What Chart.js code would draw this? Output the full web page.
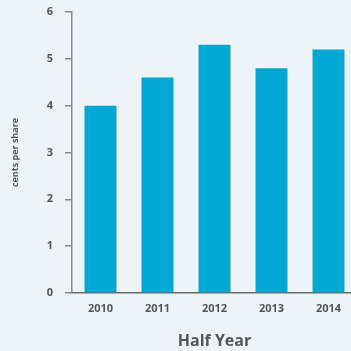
<!DOCTYPE html>
<html>
<head>
<meta charset="utf-8">
<title>Half Year</title>
<script src="https://cdn.jsdelivr.net/npm/chart.js@4.4.1/dist/chart.umd.min.js"></script>
<style>
  html, body { margin: 0; padding: 0; background: #eef3f8; overflow: hidden; }
  #wrap { width: 357px; height: 351px; }
</style>
</head>
<body>
<div id="wrap"><canvas id="myChart"></canvas></div>
<script>
var years = ['2010', '2011', '2012', '2013', '2014'];
var cents = [4.0, 4.6, 5.3, 4.8, 5.2];
var yTicks = [0, 1, 2, 3, 4, 5, 6];

var labelFont = { family: "'Open Sans', sans-serif", size: 11, weight: 'bold' };

new Chart(document.getElementById('myChart'), {
  type: 'bar',
  data: {
    labels: years,
    datasets: [{
      data: cents,
      backgroundColor: '#00a7d3',
      categoryPercentage: 1,
      barPercentage: 0.56
    }]
  },
  options: {
    responsive: true,
    maintainAspectRatio: false,
    animation: false,
    layout: { padding: { top: 12, right: 0, left: 0, bottom: 0 } },
    plugins: { legend: { display: false }, tooltip: { enabled: false } },
    scales: {
      x: {
        grid: { display: false, drawTicks: false },
        border: { color: '#6b6b6b', width: 1.5 },
        ticks: { color: '#555', font: labelFont, padding: 9 },
        title: {
          display: true, text: 'Half Year', color: '#555',
          font: { family: "'Open Sans', sans-serif", size: 16, weight: 'bold' },
          padding: { top: 12, bottom: 0 }
        },
        afterFit: function (s) { s.height = 58; s.paddingLeft = 0; s.paddingRight = 0; }
      },
      y: {
        min: 0, max: 6,
        afterBuildTicks: function (s) { s.ticks = yTicks.map(function (v) { return { value: v }; }); },
        grid: { drawOnChartArea: false, drawTicks: true, tickLength: 7, color: '#8a8a8a', lineWidth: 1.5 },
        border: { color: '#8a8a8a', width: 1.5 },
        ticks: { color: '#555', font: labelFont, padding: 12 },
        title: {
          display: true, text: 'cents per share', color: '#555',
          font: { family: "'Open Sans', sans-serif", size: 9, weight: 'bold' },
          padding: { top: 10, bottom: 0 }
        },
        afterFit: function (s) { s.width = 72; s.paddingTop = 0; s.paddingBottom = 0; }
      }
    }
  }
});
</script>
</body>
</html>
